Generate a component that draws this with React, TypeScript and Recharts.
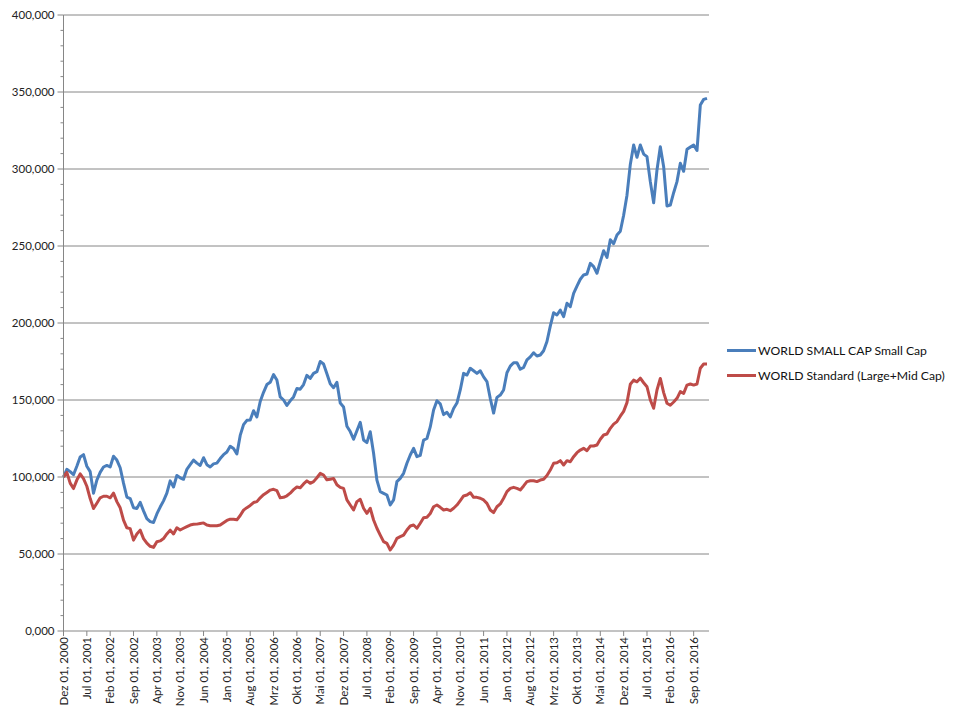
import React from "react";
import { LineChart, Line, XAxis, YAxis, CartesianGrid } from "recharts";

const monthNames = ["Jan", "Feb", "Mrz", "Apr", "Mai", "Jun", "Jul", "Aug", "Sep", "Okt", "Nov", "Dez"];

// monthly index values, Dez 2000 = 100
const smallCap = [
  100, 105, 103.5, 101.5, 107, 113, 114.5, 107, 103.5, 89.5,
  98, 103, 106.5, 107.5, 106.5, 113.5, 111, 106, 96, 87,
  86, 80, 79.5, 83.5, 78, 73, 71, 70.5, 76, 80.5,
  84.5, 89.5, 97.5, 93.5, 101, 99.5, 98.5, 105, 108, 111,
  109, 107.5, 112.5, 108, 106.5, 108.5, 109, 112, 114.5, 116.2,
  120, 118.5, 115, 127, 134, 136.8, 137, 143, 139, 149,
  155, 160, 161.5, 166.5, 163, 152, 150, 146.5, 149.5, 152,
  157.5, 157, 160, 166, 164, 167.3, 168.4, 175, 173.4, 167,
  160.5, 158, 161.5, 148, 145.5, 133, 129.5, 124.5, 130, 135.5,
  124, 122.3, 129.4, 115.4, 98, 90.5, 89.4, 88.3, 81.8, 85.1,
  97, 99.1, 102.4, 108.9, 114.3, 118.6, 113.2, 114, 124, 125,
  132.5, 143.5, 149.5, 147.5, 140.5, 142, 139, 144.5, 148, 156.5,
  167.3, 166.2, 170.6, 169, 167.3, 169, 165, 162, 151, 141.5,
  151.7, 153.2, 156.5, 167.7, 172, 174.2, 174.2, 170, 171.2, 176,
  178, 180.7, 178.6, 179.2, 182, 188, 198, 206.7, 205.2, 208.4,
  204.1, 212.8, 210.6, 219.3, 224, 228.4, 231.2, 231.8, 238.7, 236.6,
  232.3, 239.8, 246.9, 242.6, 254, 251.5, 257.1, 259.6, 270, 283,
  303, 315.6, 307.6, 315.6, 309.7, 308, 291.8, 278.1, 299.4, 314.5,
  301.5, 276, 276.6, 284.6, 291.8, 303.7, 298.5, 312.8, 314.2, 315.6,
  312, 341.6, 345.2, 345.9,
];

const standard = [
  100, 103, 96, 92.5, 98, 102, 99, 94, 86, 79.5,
  83, 86.5, 87.5, 87.5, 86.5, 89.5, 84, 80, 72, 67,
  66.5, 59, 63, 65.5, 60, 57, 55, 54.3, 58, 58.5,
  60, 63, 65.5, 63, 67, 65.6, 66.7, 67.8, 68.8, 69.3,
  69.4, 69.8, 70.2, 68.8, 68.4, 68.4, 68.4, 68.8, 70.3, 71.8,
  72.6, 72.6, 72.2, 75, 78.5, 80.1, 81.5, 83.4, 84, 86.5,
  88.5, 90, 91.5, 92, 91.2, 86.5, 86.8, 87.8, 89.5, 91.8,
  93.5, 93, 95.5, 97.5, 95.9, 97, 99.5, 102.4, 101.3, 98.2,
  98.6, 99, 95, 93.3, 92.6, 85.1, 81.8, 78.6, 84, 85.5,
  79.7, 76.4, 79.7, 72.1, 66.7, 62.3, 58, 56.9, 52.6, 55.8,
  60.2, 61.3, 62.3, 65.6, 68.2, 68.8, 66.7, 70, 73.5, 73.8,
  76.3, 80.7, 81.8, 80.3, 78.6, 79, 78.1, 79.7, 81.8, 84.7,
  87.7, 88.3, 89.8, 86.8, 86.8, 86.2, 85.1, 82.9, 78.6, 76.9,
  80.7, 82.5, 86.2, 90.5, 92.6, 93.3, 92.6, 91.6, 94.2, 97,
  97.6, 97.6, 97, 98, 98.5, 101, 104.5, 108.9, 109.3, 110.6,
  107.8, 110.6, 109.9, 113.2, 115.8, 117.5, 118.6, 117.1, 120.1, 120.1,
  120.8, 124.5, 127.3, 127.9, 131.6, 134.3, 136, 139.5, 142.6, 148.3,
  160.2, 162.9, 161.8, 164.2, 161.2, 158.6, 150, 144.6, 156.5, 164,
  154.8, 147.9, 146.6, 148.7, 151.1, 155.4, 154.3, 159.7, 160.4, 159.7,
  160.4, 170.6, 173.4, 173.4,
];

const tickLabels = [
  "Dez 01, 2000", "Jul 01, 2001", "Feb 01, 2002", "Sep 01, 2002", "Apr 01, 2003",
  "Nov 01, 2003", "Jun 01, 2004", "Jan 01, 2005", "Aug 01, 2005", "Mrz 01, 2006",
  "Okt 01, 2006", "Mai 01, 2007", "Dez 01, 2007", "Jul 01, 2008", "Feb 01, 2009",
  "Sep 01, 2009", "Apr 01, 2010", "Nov 01, 2010", "Jun 01, 2011", "Jan 01, 2012",
  "Aug 01, 2012", "Mrz 01, 2013", "Okt 01, 2013", "Mai 01, 2014", "Dez 01, 2014",
  "Jul 01, 2015", "Feb 01, 2016", "Sep 01, 2016",
];

const yTicks = [
  0, 10, 20, 30, 40, 50, 60, 70, 80, 90, 100, 110, 120, 130, 140, 150, 160, 170, 180, 190, 200,
  210, 220, 230, 240, 250, 260, 270, 280, 290, 300, 310, 320, 330, 340, 350, 360, 370, 380, 390, 400,
];
const gridValues = [50, 100, 150, 200, 250, 300, 350, 400];

// month labels, one per data point, starting Dez 2000
const categories = smallCap.map((_, i) => {
  const m = (11 + i) % 12;
  const year = 2000 + Math.floor((11 + i) / 12);
  return `${monthNames[m]} 01, ${year}`;
});

const data = categories.map((date, i) => ({
  date,
  small: smallCap[i],
  standard: standard[i],
}));

const BLUE = "#4A7EBB";
const RED = "#BE4B48";
const AXIS = "#868686";
const tickStyle = { fontFamily: "Lato, sans-serif", fontSize: "11.5px" };

const fmt = (v: number) => v.toFixed(3).replace(".", ",");

const YTick = (props: any) => {
  const { x, y, payload } = props;
  const major = payload.value % 50 === 0;
  return (
    <g>
      <line x1={x - (major ? 6 : 3)} x2={x} y1={y} y2={y} stroke={AXIS} strokeWidth={1} />
      {major && (
        <text x={x - 9} y={y} dy="0.35em" textAnchor="end" style={tickStyle} fill="#222">
          {fmt(payload.value)}
        </text>
      )}
    </g>
  );
};

const XTick = (props: any) => {
  const { x, y, payload } = props;
  return (
    <text
      x={x}
      y={y}
      dy="0.35em"
      transform={`rotate(-90 ${x} ${y})`}
      textAnchor="end"
      style={tickStyle}
      fill="#222"
    >
      {payload.value}
    </text>
  );
};

export default function App() {
  return (
    <div style={{ position: "absolute", left: 0, top: 0, width: 960, height: 720, background: "#fff" }}>
      <LineChart width={960} height={720} data={data} margin={{ top: 15, right: 251, bottom: 0, left: 0 }}>
        <CartesianGrid vertical={false} horizontalValues={gridValues} stroke={AXIS} strokeDasharray="" />
        <XAxis
          dataKey="date"
          ticks={tickLabels}
          interval={0}
          height={89}
          padding={{ left: 0, right: 2 }}
          axisLine={{ stroke: AXIS }}
          tickLine={{ stroke: AXIS }}
          tickSize={5}
          tickMargin={1}
          tick={<XTick />}
        />
        <YAxis
          domain={[0, 400]}
          ticks={yTicks}
          interval={0}
          width={63.5}
          axisLine={{ stroke: AXIS }}
          tickLine={false}
          tickSize={0}
          tickMargin={0}
          tick={<YTick />}
        />
        <Line
          type="linear"
          dataKey="small"
          stroke={BLUE}
          strokeWidth={3}
          dot={false}
          strokeLinejoin="round"
          isAnimationActive={false}
        />
        <Line
          type="linear"
          dataKey="standard"
          stroke={RED}
          strokeWidth={3}
          dot={false}
          strokeLinejoin="round"
          isAnimationActive={false}
        />
      </LineChart>
      <div
        style={{
          position: "absolute",
          left: 727,
          top: 338,
          fontFamily: "Lato, sans-serif",
          fontSize: 12.2,
          color: "#111",
          lineHeight: "25px",
        }}
      >
        {[
          { name: "WORLD SMALL CAP Small Cap", color: BLUE },
          { name: "WORLD Standard (Large+Mid Cap)", color: RED },
        ].map((s) => (
          <div key={s.name} style={{ display: "flex", alignItems: "center", height: 25 }}>
            <span style={{ display: "inline-block", width: 29, height: 3, background: s.color, marginRight: 2 }} />
            <span style={{ whiteSpace: "nowrap" }}>{s.name}</span>
          </div>
        ))}
      </div>
    </div>
  );
}
